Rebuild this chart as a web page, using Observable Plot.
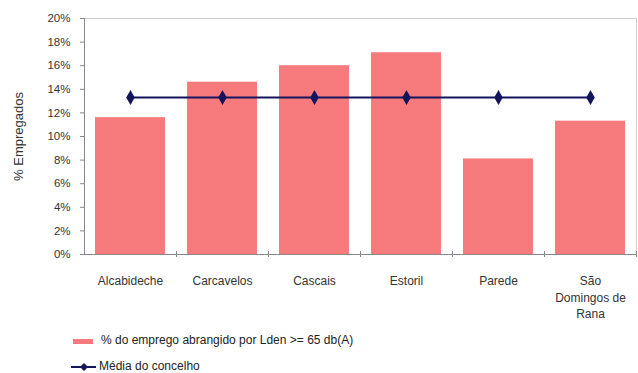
<!DOCTYPE html>
<html>
<head>
<meta charset="utf-8">
<script src="https://cdn.jsdelivr.net/npm/d3@7"></script>
<script src="https://cdn.jsdelivr.net/npm/@observablehq/plot@0.6"></script>
<style>
  html, body { margin: 0; padding: 0; background: #fff; }
  body { width: 638px; height: 373px; overflow: hidden; font-family: "Liberation Sans", Arial, sans-serif; }
  #chart svg { display: block; }
  #legend { position: relative; height: 48px; font-size: 12px; line-height: 13px; color: #222; }
  .item { position: absolute; left: 71px; display: flex; align-items: center; }
  .item svg { display: block; margin-right: 2px; }
</style>
</head>
<body>
<div id="chart"></div>
<div id="legend"></div>
<script>
// Freguesias do concelho de Cascais
const freguesias = ["Alcabideche", "Carcavelos", "Cascais", "Estoril", "Parede", "São Domingos de Rana"];
const tickLabels = ["Alcabideche", "Carcavelos", "Cascais", "Estoril", "Parede", "São\nDomingos de\nRana"];
// % do emprego abrangido por Lden >= 65 dB(A)
const empregoExposto = [11.6, 14.6, 16.0, 17.1, 8.1, 11.3];
// média do concelho
const mediaConcelho = [13.3, 13.3, 13.3, 13.3, 13.3, 13.3];
const yTicks = [0, 2, 4, 6, 8, 10, 12, 14, 16, 18, 20];

const barColor = "#f77b7d";
const lineColor = "#15155e";

const W = 638, H = 325, mL = 84, mR = 2, mT = 18, mB = 71;
const step = (W - mL - mR) / freguesias.length;

const rows = freguesias.map((f, i) => ({f, v: empregoExposto[i], m: mediaConcelho[i]}));
const labelOf = new Map(freguesias.map((f, i) => [f, tickLabels[i]]));

const chart = Plot.plot({
  width: W, height: H,
  marginLeft: mL, marginRight: mR, marginTop: mT, marginBottom: mB,
  style: {fontFamily: "'Liberation Sans', Arial, sans-serif", fontSize: "12px", color: "#333", background: "#fff"},
  x: {domain: freguesias, padding: 0, label: null},
  y: {domain: [0, 20], label: null},
  marks: [
    Plot.frame({stroke: "#cfcfcf"}),
    Plot.barY(rows, {x: "f", y: "v", fill: barColor, insetLeft: 11, insetRight: 11}),
    Plot.ruleY([0], {stroke: "#888"}),
    Plot.ruleX([0], {x: () => freguesias[0], dx: -step / 2, y1: 0, y2: 20, stroke: "#888"}),
    Plot.ruleX(freguesias, {x: d => d, dx: step / 2, y1: 0, y2: 0, insetTop: -3, insetBottom: -3, stroke: "#888"}),
    Plot.axisY({ticks: yTicks, tickFormat: d => d + "%", tickSize: 4, tickPadding: 10, stroke: "#888", fontSize: 11.5}),
    Plot.axisX({tickSize: 0, tickPadding: 19, lineHeight: 1.38, tickFormat: d => labelOf.get(d)}),
    Plot.text(["% Empregados"], {frameAnchor: "left", textAnchor: "middle", dx: -66, rotate: -90, fontSize: 13, fill: "#333"}),
    Plot.line(rows, {x: "f", y: "m", stroke: lineColor, strokeWidth: 2}),
    Plot.dot(rows, {x: "f", y: "m", symbol: "diamond", r: 3.6, fill: lineColor, stroke: lineColor})
  ]
});
document.getElementById("chart").appendChild(chart);

// Legenda
const legend = document.getElementById("legend");
legend.innerHTML = `
  <div class="item" style="top:9px">
    <svg width="28" height="12"><rect x="2" y="4" width="20" height="5" fill="${barColor}"/></svg>
    <span>% do emprego abrangido por Lden &gt;= 65 db(A)</span>
  </div>
  <div class="item" style="top:35px">
    <svg width="26" height="12"><line x1="0" x2="25" y1="6" y2="6" stroke="${lineColor}" stroke-width="2"/><path d="M13,2L17,6L13,10L9,6Z" fill="${lineColor}"/></svg>
    <span>Média do concelho</span>
  </div>`;
</script>
</body>
</html>
